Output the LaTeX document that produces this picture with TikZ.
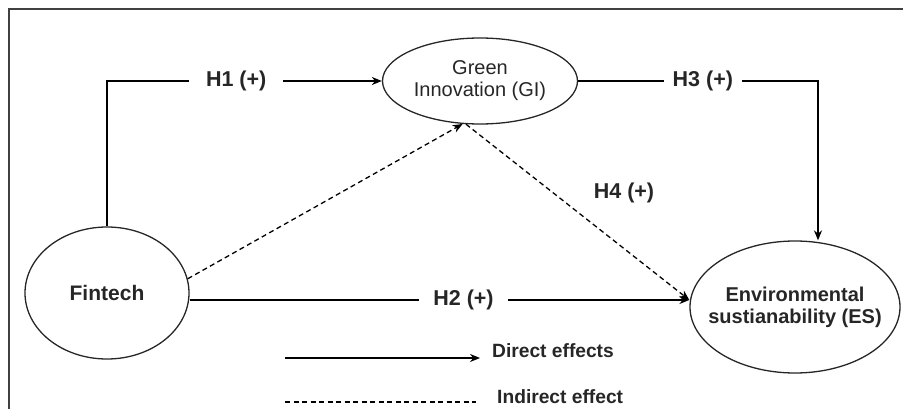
\documentclass[tikz,border=0pt]{standalone}
\usepackage{fontspec}
\setmainfont{Liberation Sans}
\usetikzlibrary{shapes.geometric,arrows.meta}
\definecolor{ink}{HTML}{262626}
\tikzset{
  construct/.style={ellipse, draw=ink, line width=1.3pt, inner sep=0pt},
  ctext/.style={text=ink, align=center, inner sep=0pt},
  conn/.style={draw=black, line width=1.3pt},
  arr/.style={conn, -{Stealth[length=10pt,width=8pt]}},
  dasharr/.style={arr, dash pattern=on 5pt off 3.5pt},
  lbl/.style={fill=white, text=ink, inner xsep=14pt, inner ysep=2pt, font=\bfseries\fontsize{21.5}{24}\selectfont},
  legtext/.style={text=ink, anchor=base west, inner sep=0pt, font=\bfseries\fontsize{19.2}{22}\selectfont},
}
\begin{document}
\begin{tikzpicture}[x=1pt,y=-1pt]
\useasboundingbox (0,0) rectangle (903,409);
% frame
\draw[line width=1.8pt, black!75] (9,409) -- (9,9) -- (903,9);
% constructs
\node[construct, minimum width=164pt, minimum height=132pt] (fin) at (107,293) {};
\node[ctext, font=\bfseries\fontsize{21}{24}\selectfont] (fint) at (fin.center) {Fintech};
\node[construct, minimum width=195pt, minimum height=86pt] (gi) at (480,81) {};
\node[ctext, font=\fontsize{20}{22}\selectfont] (git) at (gi.center) {Green\\Innovation (GI)};
\node[construct, minimum width=210pt, minimum height=132pt] (es) at (795,307) {};
\node[ctext, font=\bfseries\fontsize{20}{22}\selectfont] (est) at (es.center) {Environmental\\sustianability (ES)};
% H1
\coordinate (h1c) at (fin.north |- gi.west);
\draw[arr] (fin.north) -- (h1c) -- node[lbl, inner xsep=17pt, pos=0.47]{H1 (+)} (gi.west);
% H3
\coordinate (h3c) at (818,81);
\draw[arr] (gi.east) -- node[lbl, inner xsep=9pt, pos=0.52]{H3 (+)} (h3c) -- (h3c |- es.north);
% H2
\draw[arr] ([yshift=-7pt]fin.east) -- node[lbl, pos=0.548]{H2 (+)} ([yshift=7pt]es.west);
% indirect
\draw[dasharr] (fin.10.6) -- (gi.248);
\draw[dasharr] (gi.252) -- ([yshift=7pt]es.west);
\node[lbl, fill=none] (h4) at (624,193) {H4 (+)};
% legend
\coordinate (la) at (285,358);
\coordinate (lb) at (480,358);
\coordinate (lc) at (285,402);
\coordinate (ld) at (476,402);
\draw[arr] (la) -- (lb);
\draw[conn, dash pattern=on 5pt off 3.5pt] (lc) -- (ld);
\node[legtext] (dtxt) at (492,357) {Direct effects};
\node[legtext] (itxt) at (497,403) {Indirect effect};
\end{tikzpicture}
\end{document}
